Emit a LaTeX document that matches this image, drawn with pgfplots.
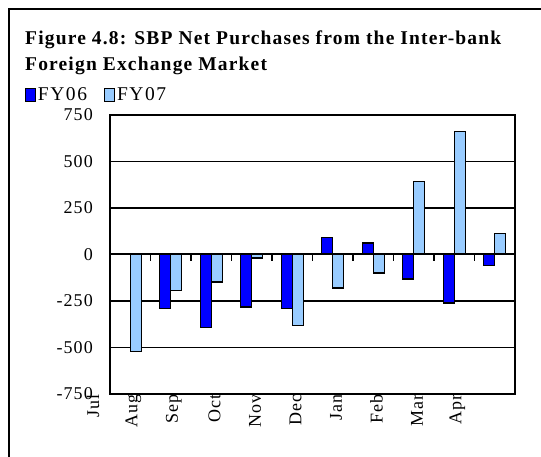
\documentclass[border=0pt]{standalone}
\usepackage{fontspec}
\setmainfont{Liberation Serif}
\usepackage{pgfplots}
\pgfplotsset{compat=1.18}
\definecolor{fyA}{RGB}{0,0,255}
\definecolor{fyB}{RGB}{153,204,255}
\newcommand{\labfont}{\fontsize{18}{20}\selectfont\addfontfeature{LetterSpace=6}}
\newcommand{\legfont}{\fontsize{19.5}{21}\selectfont\addfontfeature{LetterSpace=8}}
\newcommand{\titfont}{\fontsize{19.5}{26}\selectfont\bfseries\addfontfeature{LetterSpace=6}}
\begin{document}
\begin{tikzpicture}[x=1pt,y=1pt]
\path[use as bounding box] (0,0) rectangle (541,457);
\draw[line width=2pt] (9,-20) -- (9,447.5) -- (560,447.5);
\node[anchor=base west, inner sep=0pt, font=\titfont] at (25,412) {Figure 4.8: SBP Net Purchases from the Inter-bank};
\node[anchor=base west, inner sep=0pt, font=\titfont] at (25,386) {Foreign Exchange Market};
\begin{axis}[
  at={(110pt,63pt)}, anchor=south west,
  width=405pt, height=279pt, scale only axis,
  xmin=-0.5, xmax=9.5, ymin=-750, ymax=750,
  ytick={-750,-500,-250,0,250,500,750},
  yticklabels={-750,-500,-250,0,250,500,750},
  ymajorgrids, grid style={black, line width=1.2pt},
  major tick style={draw=none},
  xtick={0,1,2,3,4,5,6,7,8,9},
  xticklabels={Jul,Aug,Sep,Oct,Nov,Dec,Jan,Feb,Mar,Apr},
  xticklabel style={xshift=-37.3pt, rotate=90, anchor=east, inner sep=0pt, yshift=0pt},
  yticklabel style={anchor=east, inner sep=0pt, xshift=-17pt},
  tick label style={font=\labfont},
  axis line style={line width=1.5pt},
  legend columns=2,
  legend style={at={(axis description cs:-0.21,1.104)}, anchor=north west, draw=none, fill=none,
    inner sep=0pt, outer sep=0pt, font=\legfont, cells={anchor=west},
    /tikz/every even column/.append style={column sep=15pt}},
  legend image code/.code={\draw[#1, draw=black, line width=1pt] (0pt,-6pt) rectangle (10pt,7pt);},
  clip=false,
]
\addplot[ybar, bar width=0.27, bar shift=-0.135, fill=fyA, draw=black, line width=1.3pt]
  coordinates {(1,-290) (2,-392) (3,-282) (4,-290) (5,91) (6,61) (7,-132) (8,-260) (9,-60)};
\addlegendentry{FY06}
\addplot[ybar, bar width=0.27, bar shift=0.135, fill=fyB, draw=black, line width=1.3pt]
  coordinates {(0,-520) (1,-193) (2,-148) (3,-19) (4,-380) (5,-180) (6,-100) (7,391) (8,660) (9,111)};
\addlegendentry{FY07}
\addplot[ycomb, black, line width=1.2pt, no markers, forget plot]
  coordinates {(0.5,-36) (1.5,-36) (2.5,-36) (3.5,-36) (4.5,-36) (5.5,-36) (6.5,-36) (7.5,-36) (8.5,-36) (9.5,-36)};
\addplot[black, line width=2pt, no markers, forget plot] coordinates {(-0.5,0) (9.5,0)};
\end{axis}
\end{tikzpicture}
\end{document}
